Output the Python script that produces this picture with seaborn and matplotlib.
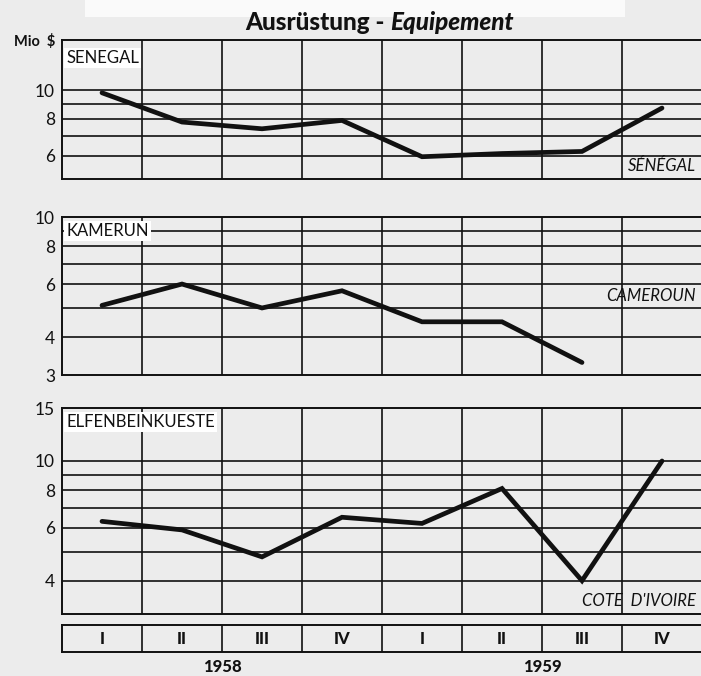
import numpy as np
import pandas as pd
import matplotlib
matplotlib.use("Agg")
import matplotlib.pyplot as plt
import seaborn as sns

sns.set_theme(style="white")
plt.rcParams["font.family"] = ["Lato", "DejaVu Sans"]

# Quarterly equipment imports, million $
quarters = ["I", "II", "III", "IV", "I", "II", "III", "IV"]
years = ["1958", "1959"]
senegal = [9.8, 7.8, 7.4, 7.9, 5.95, 6.1, 6.2, 8.7]
kamerun = [5.1, 6.0, 5.0, 5.7, 4.5, 4.5, 3.3]
elfenbein = [6.3, 5.9, 4.8, 6.5, 6.2, 8.1, 4.0, 10.0]

W, H = 701, 676
BG = "#ececec"
INK = "#111111"

fig = plt.figure(figsize=(W / 100, H / 100), dpi=100, facecolor=BG)

# pale band along the top edge of the sheet
fig.patches.append(plt.Rectangle((85 / W, 1 - 17 / H), 540 / W, 17 / H,
                                 transform=fig.transFigure, facecolor="#fafafa",
                                 edgecolor="none", zorder=0))


def rect(left, top, right, bottom):
    return [left / W, 1 - bottom / H, (right - left) / W, (bottom - top) / H]


panels = [
    dict(values=senegal, top=40, bottom=179, ylim=(5.0, 14.8),
         grid=[6, 7, 8, 9, 10], ticks=[6, 8, 10],
         de="SENEGAL", fr="SÉNÉGAL", de_y=0.87, fr_y=0.094),
    dict(values=kamerun, top=217, bottom=375, ylim=(3.0, 10.0),
         grid=[4, 5, 6, 7, 8, 9], ticks=[3, 4, 6, 8, 10],
         de="KAMERUN", fr="CAMEROUN", de_y=0.91, fr_y=0.50),
    dict(values=elfenbein, top=408, bottom=614, ylim=(3.1, 15.0),
         grid=[4, 5, 6, 7, 8, 9, 10], ticks=[4, 6, 8, 10, 15],
         de="ELFENBEINKUESTE", fr="COTE  D'IVOIRE", de_y=0.93, fr_y=0.063),
]

for p in panels:
    ax = fig.add_axes(rect(62, p["top"], 702, p["bottom"]))
    ax.set_facecolor(BG)
    df = pd.DataFrame({"q": np.arange(len(p["values"])), "v": p["values"]})
    ax.set_yscale("log")
    for g in p["grid"]:
        ax.axhline(g, color=INK, lw=1.2, zorder=1)
    for xb in np.arange(0.5, 7.5, 1.0):
        ax.axvline(xb, color=INK, lw=1.2, zorder=1)
    sns.lineplot(data=df, x="q", y="v", ax=ax, color=INK, lw=3.4,
                 zorder=3, solid_joinstyle="miter")
    ax.set_xlim(-0.5, 7.5)
    ax.set_ylim(*p["ylim"])
    ax.set_yticks(p["ticks"])
    ax.set_yticklabels([str(t) for t in p["ticks"]])
    ax.yaxis.set_minor_locator(matplotlib.ticker.NullLocator())
    ax.set_xticks([])
    ax.set_xlabel("")
    ax.set_ylabel("")
    ax.tick_params(axis="y", length=0, pad=5, labelsize=12.5, colors=INK)
    for side in ["top", "bottom", "left"]:
        ax.spines[side].set_color(INK)
        ax.spines[side].set_linewidth(1.4)
    ax.spines["right"].set_visible(False)
    ax.text(0.007, p["de_y"], p["de"], transform=ax.transAxes, fontsize=12,
            ha="left", va="center", color=INK, zorder=5,
            bbox=dict(facecolor="white", edgecolor="none", pad=1.5))
    ax.text(0.99, p["fr_y"], p["fr"], transform=ax.transAxes, fontsize=12,
            style="italic", ha="right", va="center", color=INK, zorder=5)

# Quarter strip below the panels
qax = fig.add_axes(rect(62, 625, 702, 652))
qax.set_facecolor(BG)
qax.set_xlim(-0.5, 7.5)
qax.set_ylim(0, 1)
for xb in np.arange(0.5, 7.5, 1.0):
    qax.axvline(xb, color=INK, lw=1.2)
for i, q in enumerate(quarters):
    qax.text(i, 0.5, q, ha="center", va="center", fontsize=12,
             fontweight="black", color=INK)
qax.set_xticks([])
qax.set_yticks([])
for side in ["top", "bottom", "left"]:
    qax.spines[side].set_color(INK)
    qax.spines[side].set_linewidth(1.4)
qax.spines["right"].set_visible(False)
for xpos, yr in zip([1.5, 5.5], years):
    qax.text(xpos, -0.55, yr, ha="center", va="center", fontsize=12,
             fontweight="black", color=INK, transform=qax.transData,
             clip_on=False)

fig.text(14 / W, 1 - 41 / H, "Mio  $", fontsize=10.5, fontweight="bold",
         ha="left", va="center", color=INK)
fig.text(390 / W, 1 - 22 / H, "Ausrüstung - ", fontsize=17.5,
         fontweight="black", ha="right", va="center", color=INK)
fig.text(390 / W, 1 - 22 / H, "Equipement", fontsize=17.5,
         fontweight="black", style="italic", ha="left", va="center", color=INK)

fig.savefig("out.png", dpi=100, facecolor=BG)
